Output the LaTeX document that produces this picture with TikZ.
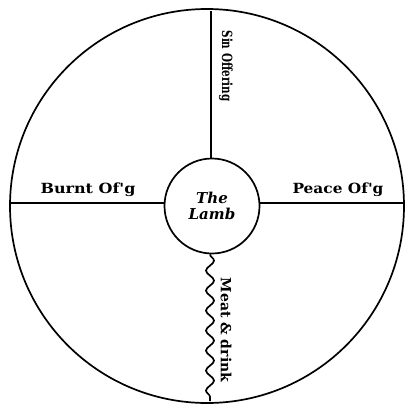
\documentclass[tikz,border=0pt]{standalone}
\usepackage{fontspec}
\setmainfont{DejaVu Serif}
\newfontfamily\lblfont{DejaVu Serif}
\usetikzlibrary{decorations.pathmorphing}
\begin{document}
\begin{tikzpicture}[x=1pt,y=-1pt,
  ln/.style={line width=1.7pt,black},
  lbl/.style={font=\lblfont\bfseries\fontsize{14}{15}\selectfont,inner sep=0pt},
  lamb/.style={font=\bfseries\itshape\fontsize{15}{15}\selectfont,align=center,inner sep=0pt}]
\useasboundingbox (0,0) rectangle (409,407);
\node[circle,draw,ln,minimum size=394pt,inner sep=0pt] (outer) at (207,206) {};
\node[circle,draw,ln,minimum size=95pt,inner sep=0pt] (inner) at (212,206) {};
\coordinate (top) at (211,11);
\coordinate (bot) at (210,401);
\coordinate (left) at (10,203);
\coordinate (right) at (404,203);
\draw[ln] (top) -- (inner.north -| top);
\draw[ln] (left) -- (inner.west |- left);
\draw[ln] (inner.east |- right) -- (right);
\draw[ln,decorate,decoration={snake,segment length=20pt,amplitude=4pt}] (inner.south -| bot) -- (bot);
\node[lamb] (lambtxt) at (212,206) {The\\[1pt]Lamb};
\node[lbl] (burnt) at (88,190) {\scalebox{1.14}[1]{Burnt Of'g}};
\node[lbl] (peace) at (338,190) {\scalebox{1.1}[1]{Peace Of'g}};
\node[lbl,rotate=-90] (sin) at (226,66) {\scalebox{0.74}[1]{Sin Offering}};
\node[lbl,rotate=-90] (meat) at (226,330) {Meat \& drink};
\end{tikzpicture}
\end{document}
